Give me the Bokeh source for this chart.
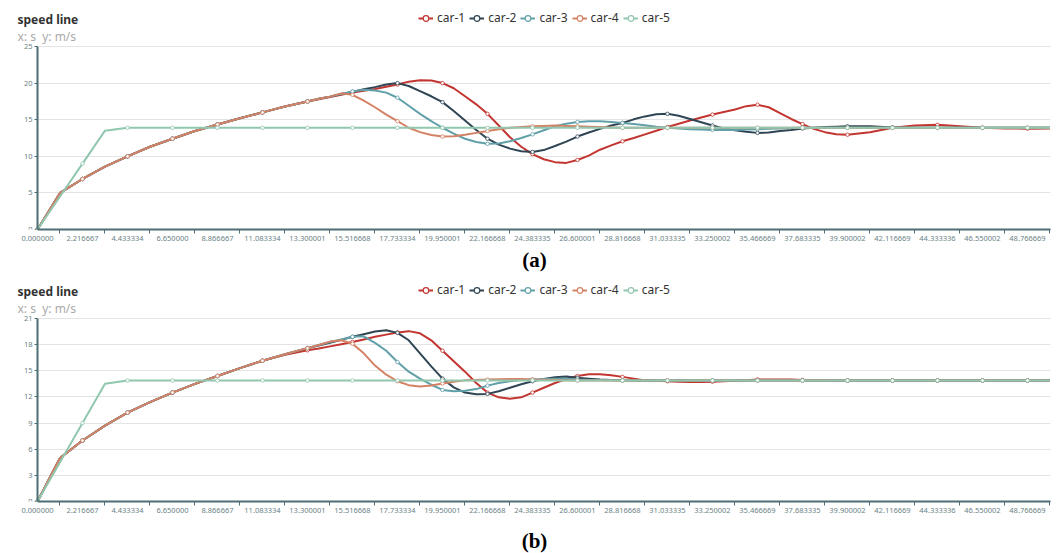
from bokeh.plotting import figure
from bokeh.models import Range1d, FixedTicker, Legend, LegendItem, Label, BoxAnnotation
from bokeh.layouts import column
from bokeh.embed import file_html
from bokeh.resources import INLINE

# ---------------- data ----------------
names = ["car-1", "car-2", "car-3", "car-4", "car-5"]
colors = ["#c23531", "#2f4554", "#61a0a8", "#d48265", "#91c7ae"]

x_labels = ["0.000000", "2.216667", "4.433334", "6.650000", "8.866667", "11.083334",
            "13.300001", "15.516668", "17.733334", "19.950001", "22.166668", "24.383335",
            "26.600001", "28.816668", "31.033335", "33.250002", "35.466669", "37.683335",
            "39.900002", "42.116669", "44.333336", "46.550002", "48.766669"]

time_s = [0.0, 1.108333, 2.216667, 3.325, 4.433334, 5.541667, 6.65, 7.758333, 8.866667,
          9.975, 11.083334, 12.191667, 13.300001,
          13.854169, 14.408334, 14.962502, 15.516668, 16.070836, 16.625, 17.179169,
          17.733334, 18.287503, 18.841667, 19.395836, 19.950001, 20.50417, 21.058334,
          21.612503, 22.166668, 22.720837, 23.275, 23.82917, 24.383335, 24.937504,
          25.491668, 26.045837, 26.600001, 27.154171, 27.708334, 28.262504, 28.816668,
          29.370838, 29.925, 30.479171, 31.033335, 31.587505, 32.141668, 32.695838,
          33.250002, 33.804172, 34.358335, 34.912505, 35.466669, 36.020839, 36.575002,
          37.129172, 37.683335, 38.237506, 38.791668, 39.345839, 39.900002,
          41.008335, 42.116669, 43.225002, 44.333336, 45.441669, 46.550002, 47.658335,
          48.766669, 49.875002]

# chart (a)
a_car1 = [0, 5.0, 6.9, 8.6, 10.0, 11.3, 12.4, 13.45, 14.35, 15.2, 16.0, 16.8, 17.5,
          17.8, 18.1, 18.4, 18.7, 18.95, 19.2, 19.5, 19.8, 20.2, 20.4, 20.35, 20.0, 19.3,
          18.2, 17.1, 15.8, 14.2, 12.6, 11.3, 10.3, 9.6, 9.2, 9.1, 9.5, 10.1, 10.9, 11.5,
          12.05, 12.5, 13.0, 13.5, 14.0, 14.45, 14.9, 15.3, 15.7, 16.05, 16.4, 16.85, 17.05,
          16.7, 15.9, 15.1, 14.4, 13.75, 13.3, 13.0, 12.95,
          13.3, 13.9, 14.2, 14.3, 14.1, 13.9, 13.8, 13.77, 13.8]
a_car2 = [0, 5.0, 6.9, 8.6, 10.0, 11.3, 12.4, 13.45, 14.35, 15.2, 16.0, 16.8, 17.5,
          17.85, 18.15, 18.5, 18.8, 19.15, 19.45, 19.8, 20.0, 19.6, 18.9, 18.2, 17.4, 16.2,
          14.9, 13.6, 12.4, 11.6, 11.05, 10.7, 10.6, 10.85, 11.4, 12.0, 12.7, 13.25, 13.75,
          14.2, 14.55, 15.05, 15.45, 15.75, 15.8, 15.55, 15.1, 14.65, 14.2, 13.8, 13.55,
          13.35, 13.2, 13.25, 13.45, 13.6, 13.8, 13.9, 14.0, 14.05, 14.1,
          14.1, 13.95, 13.9, 13.89, 13.89, 13.89, 13.89, 13.89, 13.89]
a_car3 = [0, 5.0, 6.9, 8.6, 10.0, 11.3, 12.4, 13.45, 14.35, 15.2, 16.0, 16.8, 17.5,
          17.85, 18.15, 18.5, 18.85, 19.1, 19.0, 18.7, 18.0, 16.9, 15.8, 14.8, 13.9, 13.1,
          12.4, 11.95, 11.7, 11.75, 12.05, 12.5, 13.0, 13.55, 14.1, 14.45, 14.7, 14.8, 14.8,
          14.7, 14.55, 14.4, 14.25, 14.05, 13.9, 13.8, 13.7, 13.65, 13.6, 13.6, 13.6, 13.65,
          13.7, 13.75, 13.8, 13.85, 13.89, 13.89, 13.89, 13.89, 13.89,
          13.89, 13.89, 13.89, 13.89, 13.89, 13.89, 13.89, 13.89, 13.89]
a_car4 = [0, 5.0, 6.9, 8.6, 10.0, 11.3, 12.4, 13.45, 14.35, 15.2, 16.0, 16.8, 17.5,
          17.85, 18.15, 18.6, 18.4, 17.6, 16.7, 15.7, 14.8, 13.9, 13.3, 12.9, 12.7, 12.75,
          12.95, 13.2, 13.45, 13.7, 13.9, 14.0, 14.1, 14.15, 14.2, 14.15, 14.1, 14.05, 14.0,
          13.95, 13.89, 13.89, 13.89, 13.89, 13.89, 13.89, 13.89, 13.89, 13.89, 13.89,
          13.89, 13.89, 13.89, 13.89, 13.89, 13.89, 13.89, 13.89, 13.89, 13.89, 13.89,
          13.89, 13.89, 13.89, 13.89, 13.89, 13.89, 13.89, 13.89, 13.89]
a_car5 = [0, 4.5, 9.0, 13.5, 13.89, 13.89, 13.89, 13.89, 13.89, 13.89, 13.89, 13.89, 13.89,
          13.89, 13.89, 13.89, 13.89, 13.89, 13.89, 13.89, 13.89, 13.89, 13.89, 13.89,
          13.89, 13.89, 13.89, 13.89, 13.89, 13.89, 13.89, 13.89, 13.89, 13.89, 13.89,
          13.89, 13.89, 13.89, 13.89, 13.89, 13.89, 13.89, 13.89, 13.89, 13.89, 13.89,
          13.89, 13.89, 13.89, 13.89, 13.89, 13.89, 13.89, 13.89, 13.89, 13.89, 13.89,
          13.89, 13.89, 13.89, 13.89, 13.89, 13.89, 13.89, 13.89, 13.89, 13.89, 13.89,
          13.89, 13.89]

# chart (b)
b_car1 = [0, 5.0, 7.0, 8.7, 10.2, 11.4, 12.5, 13.5, 14.4, 15.3, 16.15, 16.85, 17.35,
          17.55, 17.8, 18.05, 18.3, 18.6, 18.9, 19.15, 19.4, 19.55, 19.3, 18.5, 17.3, 16.1,
          14.9, 13.6, 12.5, 11.95, 11.8, 11.95, 12.5, 13.05, 13.6, 14.05, 14.4, 14.6, 14.6,
          14.5, 14.3, 14.1, 13.9, 13.85, 13.8, 13.75, 13.7, 13.7, 13.75, 13.8, 13.85, 13.9,
          14.0, 14.0, 14.0, 14.0, 13.95, 13.92, 13.9, 13.89, 13.89,
          13.89, 13.89, 13.89, 13.89, 13.89, 13.89, 13.89, 13.89, 13.89]
b_car2 = [0, 5.0, 7.0, 8.7, 10.2, 11.4, 12.5, 13.5, 14.4, 15.3, 16.15, 16.9, 17.6,
          17.9, 18.2, 18.55, 18.9, 19.2, 19.5, 19.65, 19.35, 18.5, 17.0, 15.5, 14.1, 13.1,
          12.5, 12.3, 12.35, 12.65, 13.05, 13.45, 13.8, 14.05, 14.25, 14.35, 14.2, 14.1,
          14.0, 13.95, 13.9, 13.89, 13.89, 13.89, 13.89, 13.89, 13.89, 13.89, 13.89, 13.89,
          13.89, 13.89, 13.89, 13.89, 13.89, 13.89, 13.89, 13.89, 13.89, 13.89, 13.89,
          13.89, 13.89, 13.89, 13.89, 13.89, 13.89, 13.89, 13.89, 13.89]
b_car3 = [0, 5.0, 7.0, 8.7, 10.2, 11.4, 12.5, 13.5, 14.4, 15.3, 16.15, 16.9, 17.6,
          17.95, 18.3, 18.6, 18.9, 18.95, 18.2, 17.3, 16.0, 14.9, 14.1, 13.4, 12.8, 12.65,
          12.7, 12.9, 13.3, 13.6, 13.8, 13.95, 14.0, 14.05, 14.1, 14.1, 14.0, 13.95, 13.95,
          13.9, 13.89, 13.89, 13.89, 13.89, 13.89, 13.89, 13.89, 13.89, 13.89, 13.89,
          13.89, 13.89, 13.89, 13.89, 13.89, 13.89, 13.89, 13.89, 13.89, 13.89, 13.89,
          13.89, 13.89, 13.89, 13.89, 13.89, 13.89, 13.89, 13.89, 13.89]
b_car4 = [0, 5.0, 7.0, 8.7, 10.2, 11.4, 12.5, 13.5, 14.4, 15.3, 16.15, 16.9, 17.6,
          17.95, 18.35, 18.5, 18.1, 17.0, 15.6, 14.55, 13.8, 13.35, 13.2, 13.3, 13.55,
          13.75, 13.9, 13.95, 14.0, 14.02, 14.05, 14.05, 14.0, 13.97, 13.95, 13.92, 13.89,
          13.89, 13.89, 13.89, 13.89, 13.89, 13.89, 13.89, 13.89, 13.89, 13.89, 13.89,
          13.89, 13.89, 13.89, 13.89, 13.89, 13.89, 13.89, 13.89, 13.89, 13.89, 13.89,
          13.89, 13.89, 13.89, 13.89, 13.89, 13.89, 13.89, 13.89, 13.89, 13.89, 13.89]
b_car5 = [0, 4.5, 9.0, 13.5, 13.89, 13.89, 13.89, 13.89, 13.89, 13.89, 13.89, 13.89, 13.89,
          13.89, 13.89, 13.89, 13.89, 13.89, 13.89, 13.89, 13.89, 13.89, 13.89, 13.89,
          13.89, 13.89, 13.89, 13.89, 13.89, 13.89, 13.89, 13.89, 13.89, 13.89, 13.89,
          13.89, 13.89, 13.89, 13.89, 13.89, 13.89, 13.89, 13.89, 13.89, 13.89, 13.89,
          13.89, 13.89, 13.89, 13.89, 13.89, 13.89, 13.89, 13.89, 13.89, 13.89, 13.89,
          13.89, 13.89, 13.89, 13.89, 13.89, 13.89, 13.89, 13.89, 13.89, 13.89, 13.89,
          13.89, 13.89]

a_y_ticks = [0, 5, 10, 15, 20, 25]
b_y_ticks = [0, 3, 6, 9, 12, 15, 18, 21]

title_text = "speed line"
subtitle_text = "x: s\u00a0\u00a0y: m/s"

# ---------------- layout constants (pixels) ----------------
W = 1057
BORDER_L = 16          # canvas left border (frame starts here)
BORDER_R = 7
AXIS_X = 37            # pixel where x = 0 (y axis line)
AXIS_TOP = 46          # pixel of the top y tick
FRAME_H = 229          # frame spans pixel 0 .. 229 (x axis line)
BORDER_B = 18
MAIN_H = FRAME_H + BORDER_B
X_END = 49.9
PX_PER_S = (W - BORDER_R - AXIS_X) / X_END
X_START = -(AXIS_X - BORDER_L) / PX_PER_S
AXIS_COLOR = "#4d6e72"
LABEL_COLOR = "#6b8386"
FONT = "Noto Sans"
NAN = float("nan")

tick_values = [float(s) for s in x_labels]
marker_idx = [i for i, t in enumerate(time_s) if t in tick_values]


def make_chart(series, y_ticks, caption, cap_h):
    ymax = y_ticks[-1]
    px_per_unit = (FRAME_H - AXIS_TOP) / ymax
    y_end = FRAME_H / px_per_unit

    def xd(px):
        return (px - AXIS_X) / PX_PER_S

    def yd(py):
        return (FRAME_H - py) / px_per_unit

    p = figure(width=W, height=MAIN_H, x_range=Range1d(X_START, X_END),
               y_range=Range1d(0, y_end), output_backend="svg", toolbar_location=None,
               min_border_left=BORDER_L, min_border_right=BORDER_R, min_border_top=0,
               min_border_bottom=BORDER_B)
    p.outline_line_color = None
    p.background_fill_color = "white"
    p.border_fill_color = "white"
    p.xgrid.visible = False
    p.ygrid.grid_line_color = "#e4e4e4"
    p.ygrid.grid_line_width = 1
    # keep grid lines to the right of the y axis
    p.add_layout(BoxAnnotation(right=0, fill_color="white", fill_alpha=1,
                               line_color=None, level="underlay"))

    mids = [(tick_values[i] + tick_values[i + 1]) / 2 for i in range(len(tick_values) - 1)]
    mids.append(tick_values[-1] + (tick_values[-1] - tick_values[-2]) / 2)
    p.xaxis.ticker = FixedTicker(ticks=tick_values, minor_ticks=mids)
    p.xaxis.major_label_overrides = {float(s): s for s in x_labels}
    p.xaxis.bounds = (0, X_END)
    p.xaxis.major_tick_out = 0
    p.xaxis.major_tick_in = 0
    p.xaxis.minor_tick_out = 4
    p.xaxis.minor_tick_in = 0
    p.xaxis.minor_tick_line_color = AXIS_COLOR
    p.yaxis.ticker = FixedTicker(ticks=y_ticks)
    p.yaxis.fixed_location = 0
    p.yaxis.bounds = (0, ymax)
    p.yaxis.major_tick_out = 3
    p.yaxis.major_tick_in = 0
    p.yaxis.minor_tick_line_color = None
    for ax in (p.xaxis, p.yaxis):
        ax.axis_line_color = AXIS_COLOR
        ax.axis_line_width = 2
        ax.major_tick_line_color = AXIS_COLOR
        ax.major_label_text_color = LABEL_COLOR
        ax.major_label_text_font = FONT
        ax.major_label_text_font_size = "7.5px"
        ax.major_label_standoff = 2

    for col, vals in zip(colors, series):
        p.line(time_s, vals, line_color=col, line_width=2, line_join="round")
        p.scatter([time_s[i] for i in marker_idx], [vals[i] for i in marker_idx], size=3.5,
                  fill_color="white", line_color=col, line_width=0.8)

    # title, subtitle
    p.add_layout(Label(x=xd(17), y=yd(18.5), text=title_text, text_font=FONT,
                       text_font_size="12px", text_font_style="bold", text_color="#333333",
                       text_baseline="middle", text_align="left"))
    p.add_layout(Label(x=xd(17), y=yd(36), text=subtitle_text, text_font=FONT,
                       text_font_size="12px", text_color="#aaaaaa",
                       text_baseline="middle", text_align="left"))

    # legend
    items = []
    for name, col in zip(names, colors):
        rl = p.line([NAN], [NAN], line_color=col, line_width=2)
        rs = p.scatter([NAN], [NAN], size=7.5, fill_color="white", line_color=col,
                       line_width=1.2)
        items.append(LegendItem(label=name, renderers=[rl, rs]))
    legend = Legend(items=items, orientation="horizontal",
                    location=(418 - BORDER_L, FRAME_H - 26),
                    border_line_color=None, background_fill_alpha=0, padding=0, margin=0,
                    spacing=4, label_standoff=4, glyph_width=15, glyph_height=14,
                    label_height=14, label_text_font=FONT, label_text_font_size="12px",
                    label_text_color="#333333", label_text_baseline="middle")
    p.add_layout(legend, "center")

    # caption figure
    c = figure(width=W, height=cap_h, x_range=Range1d(BORDER_L, W - BORDER_R),
               y_range=Range1d(cap_h, 0), x_axis_type=None, y_axis_type=None,
               output_backend="svg", toolbar_location=None, min_border=0,
               min_border_left=BORDER_L, min_border_right=BORDER_R)
    c.outline_line_color = None
    c.background_fill_color = "white"
    c.border_fill_color = "white"
    c.add_layout(Label(x=534, y=cap_h - 12.5, text=caption, text_font="Liberation Serif",
                       text_font_size="21px", text_font_style="bold", text_color="#000000",
                       text_baseline="middle", text_align="center"))
    return column(p, c, spacing=0)


chart_a = make_chart([a_car1, a_car2, a_car3, a_car4, a_car5], a_y_ticks, "(a)", 272 - MAIN_H)
chart_b = make_chart([b_car1, b_car2, b_car3, b_car4, b_car5], b_y_ticks, "(b)",
                     553 - 272 - MAIN_H)

layout = column(chart_a, chart_b, spacing=0)
open("out.html", "w").write(file_html(layout, INLINE))
